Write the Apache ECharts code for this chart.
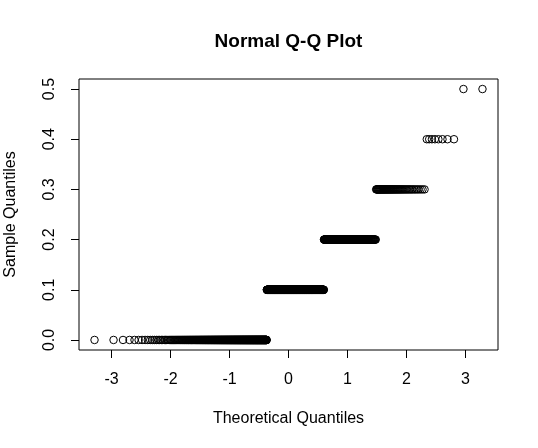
<!DOCTYPE html>
<html>
<head>
<meta charset="utf-8">
<script src="https://cdn.jsdelivr.net/npm/echarts@6/dist/echarts.min.js"></script>
<style>
html,body{margin:0;padding:0;background:#fff;}
#chart{width:538px;height:448px;}
</style>
</head>
<body>
<div id="chart"></div>
<script>
// Distinct sample values and how many observations take each value (n = 1000)
const sampleLevels = [0.0, 0.1, 0.2, 0.3, 0.4, 0.5];
const levelCounts = [356, 370, 205, 59, 8, 2];
const xTicks = [-3, -2, -1, 0, 1, 2, 3];
const yTicks = [0.0, 0.1, 0.2, 0.3, 0.4, 0.5];

// inverse normal CDF (Acklam)
function qnorm(p){
  const a=[-3.969683028665376e+01,2.209460984245205e+02,-2.759285104469687e+02,1.383577518672690e+02,-3.066479806614716e+01,2.506628277459239e+00];
  const b=[-5.447609879822406e+01,1.615858368580409e+02,-1.556989798598866e+02,6.680131188771972e+01,-1.328068155288572e+01];
  const c=[-7.784894002430293e-03,-3.223964580411365e-01,-2.400758277161838e+00,-2.549732539343734e+00,4.374664141464968e+00,2.938163982698783e+00];
  const d=[7.784695709041462e-03,3.224671290700398e-01,2.445134137142996e+00,3.754408661907416e+00];
  const pl=0.02425, ph=1-pl;
  let q,r;
  if(p<pl){q=Math.sqrt(-2*Math.log(p));return (((((c[0]*q+c[1])*q+c[2])*q+c[3])*q+c[4])*q+c[5])/((((d[0]*q+d[1])*q+d[2])*q+d[3])*q+1);}
  if(p<=ph){q=p-0.5;r=q*q;return (((((a[0]*r+a[1])*r+a[2])*r+a[3])*r+a[4])*r+a[5])*q/(((((b[0]*r+b[1])*r+b[2])*r+b[3])*r+b[4])*r+1);}
  q=Math.sqrt(-2*Math.log(1-p));return -(((((c[0]*q+c[1])*q+c[2])*q+c[3])*q+c[4])*q+c[5])/((((d[0]*q+d[1])*q+d[2])*q+d[3])*q+1);
}

// build sorted sample and theoretical quantiles (R's ppoints, a = 0.5)
const sample = [];
sampleLevels.forEach((v,i)=>{ for(let k=0;k<levelCounts[i];k++) sample.push(v); });
const n = sample.length;
const points = sample.map((v,i)=>[qnorm((i+1-0.5)/n), v]);

const xr = [points[0][0], points[n-1][0]];
const xpad = (xr[1]-xr[0])*0.04;
const ypad = (sampleLevels[sampleLevels.length-1]-sampleLevels[0])*0.04;

const FONT = "'Liberation Sans', Arial, Helvetica, sans-serif";
const chart = echarts.init(document.getElementById('chart'), null, {renderer:'canvas'});
chart.setOption({
  animation:false,
  backgroundColor:'#fff',
  title:{
    text:'Normal Q-Q Plot',
    left:288.5, top:32, padding:0, textAlign:'center',
    textStyle:{fontFamily:FONT, fontSize:19, fontWeight:'bold', color:'#000'}
  },
  grid:{left:79, right:40, top:79, bottom:98, show:true, borderColor:'#000', borderWidth:1, backgroundColor:'transparent', outerBoundsMode:'none'},
  xAxis:{
    type:'value', min:xr[0]-xpad, max:xr[1]+xpad, position:'bottom',
    name:'Theoretical Quantiles', nameLocation:'middle', nameGap:61,
    nameTextStyle:{fontFamily:FONT, fontSize:16, color:'#000'},
    axisLine:{show:false, onZero:false},
    axisTick:{show:true, length:8, lineStyle:{color:'#000', width:1}, customValues:xTicks},
    axisLabel:{fontFamily:FONT, fontSize:16, color:'#000', margin:22, customValues:xTicks,
      formatter:v=>String(v)},
    splitLine:{show:false}
  },
  yAxis:{
    type:'value', min:sampleLevels[0]-ypad, max:sampleLevels[sampleLevels.length-1]+ypad, position:'left',
    name:'Sample Quantiles', nameLocation:'middle', nameGap:60,
    nameTextStyle:{fontFamily:FONT, fontSize:16, color:'#000'},
    axisLine:{show:false, onZero:false},
    axisTick:{show:true, length:8, lineStyle:{color:'#000', width:1}, customValues:yTicks},
    axisLabel:{fontFamily:FONT, fontSize:16, color:'#000', margin:21, rotate:90, customValues:yTicks,
      formatter:v=>Number(v).toFixed(1)},
    splitLine:{show:false}
  },
  series:[{
    type:'scatter',
    data:points,
    symbol:'circle',
    symbolSize:7.5,
    silent:true,
    progressive:0,
    large:false,
    itemStyle:{color:'rgba(0,0,0,0)', borderColor:'#000', borderWidth:1, opacity:1},
    emphasis:{disabled:true}
  }]
});
</script>
</body>
</html>
